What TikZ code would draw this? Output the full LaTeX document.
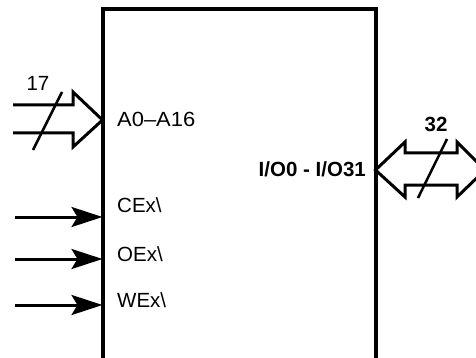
\documentclass[tikz,border=0pt]{standalone}
\usepackage{fontspec}
\setmainfont{Liberation Sans}
\usetikzlibrary{arrows,arrows.meta}
\tikzstyle{chip} = [draw=black, line width=4pt, rectangle, inner sep=0pt, outer sep=0pt, anchor=north west, minimum width=273pt, minimum height=420pt]
\tikzstyle{pin} = [font=\fontsize{20.5}{22}\selectfont, inner sep=0pt, anchor=base west]
\tikzstyle{buswidth} = [font=\fontsize{20.5}{22}\selectfont, inner sep=0pt, anchor=base]
\tikzstyle{bus} = [draw=black, line width=3pt, miter limit=20]
\tikzstyle{ctrl} = [draw=black, line width=3pt, -{Stealth[length=31pt, width=20pt, inset=6pt]}]
\tikzstyle{slash} = [draw=black, line width=2.5pt]
\newcommand{\widelbl}[1]{\scalebox{1.07}[1]{#1}}

\begin{document}
\begin{tikzpicture}[x=1pt, y=-1pt]
\clip (0,0) rectangle (476,358);
\node [chip] (chip) at (102.5,9.5) {};

% address bus
\coordinate (addr) at (chip.west |- 0,120);
\coordinate (addr in) at (13,119);
\draw [bus] (addr in |- 0,105) -- (73,105) -- (73,92) -- (addr) -- (73,147) -- (73,133) -- (addr in |- 0,133);
\draw [slash] (33,150) -- (62,92);
\node [buswidth] (w17) at (38,91) {17};
\node [pin] (addr lbl) at (117,127) {\widelbl{A0--A16}};

% control inputs
\foreach \ay/\ty/\nm/\lbl in {217/212/ce/CEx, 259/261/oe/OEx, 305/307/we/WEx}{
    \coordinate (\nm) at (chip.west |- 0,\ay);
    \coordinate (\nm in) at (15,\ay);
    \draw [ctrl] (\nm in) -- (\nm);
    \node [pin] (\nm lbl) at (117,\ty) {\lbl\textbackslash};
}

% data bus
\coordinate (data) at (chip.east |- 0,170);
\draw [bus] (data) -- (405,142) -- (405,153) -- (457,153) -- (457,142) -- (485,170)
    -- (457,197) -- (457,185) -- (405,185) -- (405,197) -- cycle;
\draw [slash] (418,198) -- (447,139);
\node [buswidth, font=\fontsize{20.5}{22}\selectfont\bfseries] (w32) at (436,132) {32};
\node [pin, anchor=base east, font=\fontsize{20.5}{22}\selectfont\bfseries] (data lbl) at (366,177) {I/O0 - I/O31};
\end{tikzpicture}
\end{document}
